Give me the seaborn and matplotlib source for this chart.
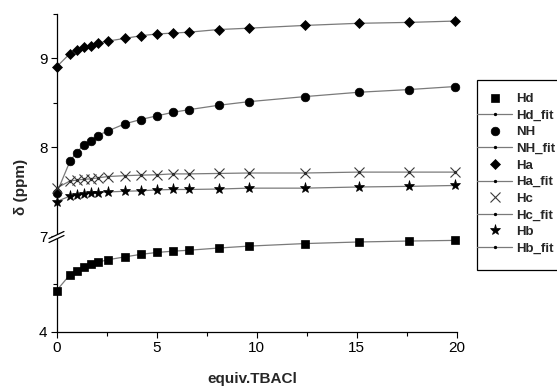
import numpy as np
import pandas as pd
import matplotlib
matplotlib.use("Agg")
import matplotlib.pyplot as plt
import seaborn as sns
from matplotlib.patches import Rectangle, Polygon
from matplotlib.lines import Line2D

# ---- data ----
equiv = [0, 0.67, 1.0, 1.37, 1.7, 2.05, 2.55, 3.4, 4.2, 5.0, 5.8, 6.6, 8.1, 9.6, 12.4, 15.1, 17.6, 19.9]
Hd = [5.29, 5.79, 5.92, 6.03, 6.12, 6.18, 6.26, 6.35, 6.43, 6.49, 6.53, 6.56, 6.63, 6.69, 6.77, 6.82, 6.85, 6.87]
NH = [7.48, 7.84, 7.94, 8.025, 8.07, 8.13, 8.18, 8.26, 8.31, 8.35, 8.39, 8.42, 8.47, 8.51, 8.567, 8.616, 8.646, 8.68]
Ha = [8.90, 9.05, 9.087, 9.12, 9.14, 9.166, 9.19, 9.22, 9.25, 9.27, 9.28, 9.29, 9.32, 9.335, 9.366, 9.39, 9.40, 9.415]
Hc = [7.54, 7.62, 7.63, 7.64, 7.644, 7.655, 7.67, 7.68, 7.686, 7.69, 7.70, 7.70, 7.705, 7.71, 7.71, 7.72, 7.72, 7.72]
Hb = [7.39, 7.45, 7.46, 7.475, 7.486, 7.49, 7.497, 7.505, 7.51, 7.52, 7.525, 7.525, 7.53, 7.54, 7.54, 7.553, 7.56, 7.57]

series_names = ["Hd", "NH", "Ha", "Hc", "Hb"]
series_vals = [Hd, NH, Ha, Hc, Hb]
x_ticks = [0, 5, 10, 15, 20]
y_ticks = [4, 7, 8, 9]

sns.set_theme(style="ticks")
plt.rcParams["font.family"] = ["Liberation Sans", "DejaVu Sans"]

W, H = 557, 388
fig = plt.figure(figsize=(W / 100, H / 100), dpi=100)

def fx(px):
    return px / W

def fy(py):
    return 1 - py / H

ax_l, ax_r, ax_b, ax_t = 56.5, 456.5, 331.7, 13.5
ax = fig.add_axes([fx(ax_l), fy(ax_b), fx(ax_r - ax_l), (ax_b - ax_t) / H])

# broken (compressed) y-scale below 7
R = 0.357

def fwd(y):
    y = np.asarray(y, float)
    return np.where(y >= 7, y, 7 - (7 - y) * R)

def inv(t):
    t = np.asarray(t, float)
    return np.where(t >= 7, t, 7 - (7 - t) / R)

ax.set_yscale("function", functions=(fwd, inv))

styles = {
    "Hd": dict(marker="s", markersize=5.4, color="black"),
    "NH": dict(marker="o", markersize=6.2, color="black"),
    "Ha": dict(marker="D", markersize=5.6, color="black"),
    "Hc": dict(marker="x", markersize=6.5, color="#3a3a3a", markeredgewidth=0.8),
    "Hb": dict(marker="*", markersize=8.0, color="black"),
}

handles = []
for name, vals in zip(series_names, series_vals):
    df = pd.DataFrame({"equiv": equiv, "delta": vals})
    st = dict(markeredgewidth=0.5)
    st.update(styles[name])
    st["markeredgecolor"] = st["color"]
    st["markerfacecolor"] = st["color"]
    sns.lineplot(data=df, x="equiv", y="delta", ax=ax, linestyle="none",
                 clip_on=False, zorder=4, **st)
    h_data = ax.lines[-1]
    sns.lineplot(data=df, x="equiv", y="delta", ax=ax, color="#7a7a7a",
                 linewidth=0.9, marker="o", markersize=1.6,
                 markerfacecolor="black", markeredgecolor="black",
                 clip_on=False, zorder=3)
    h_fit = ax.lines[-1]
    handles += [h_data, h_fit]

labels = []
for n in series_names:
    labels += [n, n + "_fit"]

ax.set_xlim(0, 20)
ax.set_ylim(4, 9.5)
ax.set_xticks(x_ticks)
ax.set_xticks([2.5, 7.5, 12.5, 17.5], minor=True)
ax.set_yticks(y_ticks)
ax.set_yticks([5.5, 7.5, 8.5, 9.5], minor=True)
ax.set_xticklabels([str(v) for v in x_ticks])
ax.set_yticklabels([str(v) for v in y_ticks])
ax.tick_params(axis="both", which="major", direction="out", length=4.5,
               width=0.8, labelsize=11, colors="black", pad=2)
ax.tick_params(axis="both", which="minor", direction="out", length=2.8,
               width=0.8, colors="black")
for s in ["top", "right"]:
    ax.spines[s].set_visible(False)
for s in ["left", "bottom"]:
    ax.spines[s].set_linewidth(0.9)
    ax.spines[s].set_color("black")
ax.set_xlabel("")
ax.set_ylabel("")

fig.text(fx(252), fy(379), "equiv.TBACl", ha="center", va="center",
         fontsize=11, fontweight="bold")
fig.text(fx(21.5), fy(187), "δ (ppm)", ha="center", va="center",
         rotation=90, fontsize=11, fontweight="bold")

# axis break marks
bx0, bx1 = 49, 64
poly = Polygon([(fx(bx0), fy(238.5)), (fx(bx1), fy(231.5)),
                (fx(bx1), fy(235.5)), (fx(bx0), fy(242.5))],
               closed=True, facecolor="white", edgecolor="none",
               transform=fig.transFigure, zorder=10)
fig.add_artist(poly)
for yo in (0, 4):
    fig.add_artist(Line2D([fx(bx0), fx(bx1)], [fy(238.5 + yo), fy(231.5 + yo)],
                          color="black", linewidth=0.9,
                          transform=fig.transFigure, zorder=11))

# legend with frame running off the right edge
leg_top, leg_bot, leg_left = 80, 270, 476.7
fig.add_artist(Rectangle((fx(leg_left), fy(leg_bot)), fx(W + 20 - leg_left),
                         (leg_bot - leg_top) / H, transform=fig.transFigure,
                         facecolor="white", edgecolor="black", linewidth=0.9,
                         zorder=1))
leg = fig.legend(handles, labels, loc="upper left",
                 bbox_to_anchor=(fx(leg_left), fy(leg_top + 13)),
                 bbox_transform=fig.transFigure, frameon=False,
                 prop=dict(weight="bold", size=9.5), handlelength=2.7,
                 handletextpad=0.3, labelspacing=0.33, borderpad=0.0,
                 borderaxespad=0.0)
leg.set_zorder(5)

fig.savefig("out.png", dpi=100)
